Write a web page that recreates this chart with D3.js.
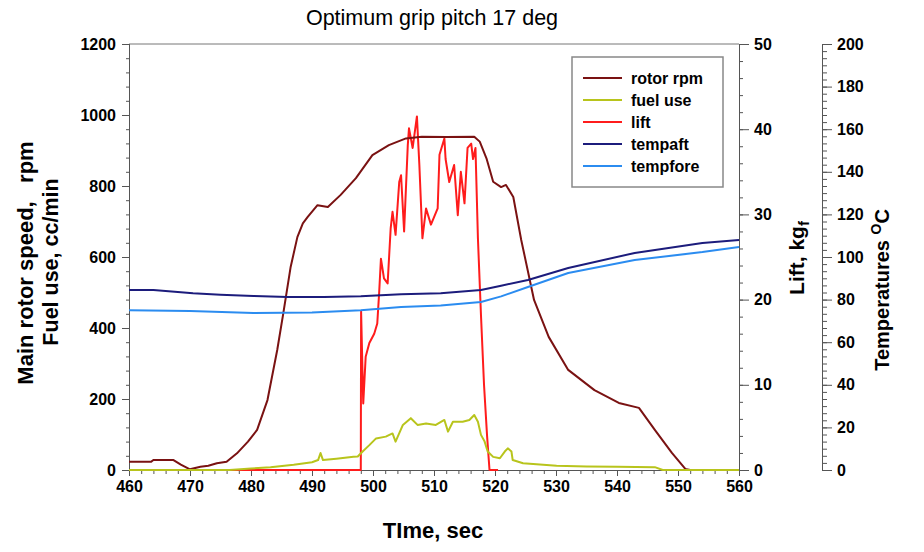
<!DOCTYPE html>
<html>
<head>
<meta charset="utf-8">
<script src="https://cdn.jsdelivr.net/npm/d3@7"></script>
<style>
  body { margin: 0; background: #fff; }
  svg { font-family: "Liberation Sans", Arial, sans-serif; }
  .tick text { font-weight: bold; fill: #000; }
  .domain, .tick line { stroke: #555; }
</style>
</head>
<body>
<svg width="924" height="552"></svg>
<script>
// **** Data: [time sec, value] ****

var rotorRpm = [[460,23],[463.6,23],[464,28],[467.3,28],[468.5,15],[470,2],[471.7,9],[473,12],[474.4,19],
    [476,23],[477.7,47],[479.5,80],[481,113],[482.7,197],[484.3,338],[485.3,442],[486.5,572],[487.6,656],
    [488.5,695],[489.3,713],[490.9,746],[492.6,741],[494.7,775],[497.2,822],[499.9,887],[502.6,915],
    [505.4,934],[508,939],[512,938],[516.6,939],[517.5,925],[518.6,878],[519.7,812],[521,797],[521.8,803],
    [523,769],[524.3,648],[526.4,479],[528.8,375],[532,282],[536.3,225],[540.3,189],[543.6,175],
    [546.2,113],[549,48],[551.2,3],[552,0]];

var fuelUse = [[460,0],[469,0],[476.5,0],[480,4],[483.2,8],[487,15],[490,22],[491,28],[491.4,48],[491.8,28],
    [494,32],[496.8,37],[497.5,38],[498.3,52],[499.4,70],[500.5,89],[502.1,94],[503.2,103],[503.7,80],
    [504.9,127],[506.2,146],[507.3,127],[508.7,131],[510.3,127],[511.7,141],[512.3,108],[513.1,136],
    [514.7,136],[515.8,141],[516.6,155],[517.2,136],[517.7,99],[518.3,80],[518.8,52],[519.7,37],
    [520.8,33],[521.6,52],[522.1,61],[522.7,52],[522.9,28],[524.6,19],[526.8,16],[530.1,12],[535,10],
    [540,9],[546.2,8],[547.5,0],[560,0]];

var lift = [[460,0],[498,0],[498.05,18.6],[498.4,7.8],[498.8,13.3],[499.4,14.9],[500.2,16],[500.7,17.2],
    [501,20.7],[501.3,24.8],[501.8,22.5],[502.4,21.9],[502.9,28.4],[503.2,30.3],[503.7,27.6],[504.3,33.8],
    [504.6,34.6],[505.1,28],[505.7,38.1],[505.9,40.1],[506.5,37.8],[507.2,41.5],[507.6,35.8],[508.1,27.2],
    [508.7,30.7],[509.5,28.8],[510.6,30.7],[510.9,37],[511.7,38.9],[511.9,36.5],[512.5,33.8],[513.3,35.8],
    [513.9,29.9],[514.4,35],[515,31.3],[515.5,37.8],[516.1,38.3],[516.4,36.5],[516.8,37.8],[517.2,27.2],
    [517.7,18.2],[518.2,10],[518.7,4],[519.1,0],[520.5,0]];

var tempAft = [[460,84.5],[464,84.5],[470.5,83],[475,82.3],[480.4,81.7],[486,81.2],[492,81.2],[498,81.6],
    [504.6,82.5],[511.1,83],[517.7,84.5],[521,86.5],[525.4,89.2],[532,94.8],[542.9,101.9],[554,106.6],[560,108]];

var tempFore = [[460,75],[470,74.6],[480.4,73.7],[490,74],[498,75],[504.6,76.5],[511.1,77.2],[517.7,78.9],
    [521,81.5],[525.4,85.9],[532,92.5],[542.9,98.6],[554,102.3],[560,104.7]];

var legendNames = ["rotor rpm", "fuel use", "lift", "tempaft", "tempfore"];
var legendColors = ["#7a1212", "#b8c41c", "#ff1c1c", "#1c1c7c", "#2b8cf0"];

// **** Scales ****

var xScale = d3.scaleLinear().domain([460, 560]).range([129, 739]);
var rpmScale = d3.scaleLinear().domain([0, 1200]).range([470, 44]);
var liftScale = d3.scaleLinear().domain([0, 50]).range([470, 44]);
var tempScale = d3.scaleLinear().domain([0, 200]).range([470, 44]);

var svg = d3.select('svg');

// top frame line
svg.append('line')
    .attr('x1', 129).attr('x2', 739).attr('y1', 44).attr('y2', 44)
    .attr('stroke', '#777');

// **** Axes: minor ticks first, then majors with labels ****

function minor(axis, vals, size) {
    return axis.tickValues(vals).tickSize(size).tickFormat('');
}

svg.append('g').attr('transform', 'translate(0,470)')
    .call(minor(d3.axisBottom(xScale), d3.range(460, 561, 2), 4));
svg.append('g').attr('class', 'x axis')
    .attr('transform', 'translate(0,470)')
    .call(d3.axisBottom(xScale).tickValues(d3.range(460, 561, 10)).tickSize(6).tickPadding(5))
    .style('font-size', '16px');

svg.append('g').attr('transform', 'translate(129,0)')
    .call(minor(d3.axisLeft(rpmScale), d3.range(0, 1201, 40), 3));
svg.append('g').attr('class', 'y axis')
    .attr('transform', 'translate(129,0)')
    .call(d3.axisLeft(rpmScale).tickValues(d3.range(0, 1201, 200)).tickFormat(d3.format('d'))
        .tickSize(7).tickPadding(6))
    .style('font-size', '16px');

svg.append('g').attr('transform', 'translate(739,0)')
    .call(minor(d3.axisRight(liftScale), d3.range(0, 51, 2), 4));
svg.append('g').attr('transform', 'translate(739,0)')
    .call(d3.axisRight(liftScale).tickValues(d3.range(0, 51, 10)).tickSize(10).tickPadding(5))
    .style('font-size', '16px');

svg.append('g').attr('transform', 'translate(822,0)')
    .call(minor(d3.axisRight(tempScale), d3.range(0, 60).map(function(i) { return i * 10 / 3; }), 5));
svg.append('g').attr('transform', 'translate(822,0)')
    .call(d3.axisRight(tempScale).tickValues(d3.range(0, 201, 20)).tickSize(10).tickPadding(5))
    .style('font-size', '16px');

svg.selectAll('.domain').attr('stroke', '#555');

// **** Lines ****

function makeLine(yScale) {
    return d3.line()
        .x(function(d) { return xScale(d[0]); })
        .y(function(d) { return yScale(d[1]); });
}

var series = [
    { data: lift, scale: liftScale, color: legendColors[2] },
    { data: rotorRpm, scale: rpmScale, color: legendColors[0] },
    { data: fuelUse, scale: rpmScale, color: legendColors[1] },
    { data: tempAft, scale: tempScale, color: legendColors[3] },
    { data: tempFore, scale: tempScale, color: legendColors[4] }
];

series.forEach(function(s) {
    svg.append('path')
        .datum(s.data)
        .attr('fill', 'none')
        .attr('stroke', s.color)
        .attr('stroke-width', 2)
        .attr('stroke-linejoin', 'round')
        .attr('d', makeLine(s.scale));
});

// **** Legend ****

svg.append('rect')
    .attr('x', 572).attr('y', 57).attr('width', 151).attr('height', 130)
    .attr('fill', '#fff').attr('stroke', '#888').attr('stroke-width', 1.5);

var items = svg.selectAll('.legend-item')
    .data(legendNames)
    .enter()
    .append('g')
    .attr('class', 'legend-item')
    .attr('transform', function(d, i) { return 'translate(583,' + (78 + i * 22) + ')'; });

items.append('line')
    .attr('x1', 0).attr('x2', 39)
    .attr('stroke', function(d, i) { return legendColors[i]; })
    .attr('stroke-width', 2);

items.append('text')
    .attr('x', 48).attr('dy', '0.35em')
    .style('font-size', '16px')
    .style('font-weight', 'bold')
    .text(function(d) { return d; });

// **** Titles and axis labels ****

svg.append('text')
    .attr('x', 432).attr('y', 25)
    .style('text-anchor', 'middle')
    .style('font-size', '21.5px')
    .text('Optimum grip pitch 17 deg');

svg.append('text')
    .attr('x', 433).attr('y', 538)
    .style('text-anchor', 'middle')
    .style('font-size', '22px')
    .style('font-weight', 'bold')
    .text('TIme, sec');

svg.append('text')
    .attr('transform', 'translate(33,263) rotate(-90)')
    .style('text-anchor', 'middle')
    .style('font-size', '22px')
    .style('font-weight', 'bold')
    .style('white-space', 'pre')
    .text('Main rotor speed,   rpm');

svg.append('text')
    .attr('transform', 'translate(58,262) rotate(-90)')
    .style('text-anchor', 'middle')
    .style('font-size', '21.5px')
    .style('font-weight', 'bold')
    .text('Fuel use, cc/min');

var liftLabel = svg.append('text')
    .attr('transform', 'translate(804,258) rotate(-90)')
    .style('text-anchor', 'middle')
    .style('font-size', '21px')
    .style('font-weight', 'bold');
liftLabel.append('tspan').text('Lift, kg');
liftLabel.append('tspan').attr('dy', 5).style('font-size', '15px').text('f');

var tempLabel = svg.append('text')
    .attr('transform', 'translate(889,290) rotate(-90)')
    .style('text-anchor', 'middle')
    .style('font-size', '20px')
    .style('font-weight', 'bold');
tempLabel.append('tspan').text('Temperatures ');
tempLabel.append('tspan').attr('dy', -8).style('font-size', '14px').text('O');
tempLabel.append('tspan').attr('dy', 8).text('C');
</script>
</body>
</html>
